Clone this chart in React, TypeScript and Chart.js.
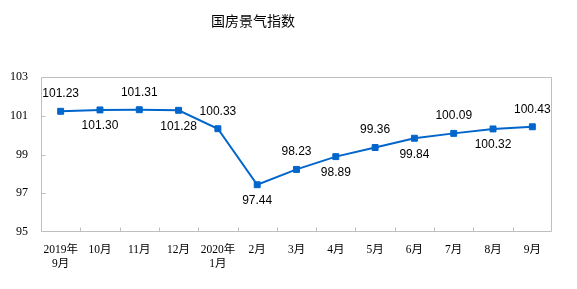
import React, { useEffect, useRef } from "react";
import { Chart, registerables } from "chart.js";

Chart.register(...registerables);

const TITLE = "国房景气指数";
const categories: (string | string[])[] = [
  ["2019年", "9月"], "10月", "11月", "12月", ["2020年", "1月"],
  "2月", "3月", "4月", "5月", "6月", "7月", "8月", "9月",
];
const values: number[] = [
  101.23, 101.3, 101.31, 101.28, 100.33, 97.44, 98.23, 98.89, 99.36, 99.84, 100.09, 100.32, 100.43,
];
const yMin = 95;
const yMax = 103;
const yStep = 2;

const LINE_COLOR = "#0066CC";
const FRAME_COLOR = "#BFBFBF";

const decorPlugin = {
  id: "decor",
  beforeDatasetsDraw(chart: any) {
    const { ctx, chartArea, scales } = chart;
    const { left, top, right, bottom } = chartArea;
    const xs = scales.x;
    const ys = scales.y;
    ctx.save();
    ctx.strokeStyle = FRAME_COLOR;
    ctx.lineWidth = 1;
    const L = Math.round(left) + 0.5;
    const R = Math.round(right) - 0.5;
    const T = Math.round(top) + 0.5;
    const B = Math.round(bottom) - 0.5;
    ctx.beginPath();
    ctx.rect(L, T, R - L, B - T);
    ctx.stroke();
    ctx.beginPath();
    for (let i = 1; i < categories.length; i++) {
      const px = Math.round(xs.getPixelForValue(i - 0.5)) + 0.5;
      ctx.moveTo(px, B);
      ctx.lineTo(px, B - 4);
    }
    for (let v = yMin + yStep; v < yMax; v += yStep) {
      const py = Math.round(ys.getPixelForValue(v)) + 0.5;
      ctx.moveTo(L, py);
      ctx.lineTo(L + 4, py);
    }
    ctx.stroke();
    ctx.restore();
  },
  afterDatasetsDraw(chart: any) {
    const { ctx } = chart;
    const meta = chart.getDatasetMeta(0);
    ctx.save();
    ctx.fillStyle = "#000";
    ctx.font = "12px 'Liberation Sans', Arial, sans-serif";
    ctx.textAlign = "center";
    ctx.textBaseline = "middle";
    meta.data.forEach((pt: any, i: number) => {
      const above = i % 2 === 0;
      ctx.fillText(values[i].toFixed(2), pt.x, pt.y + (above ? -17.5 : 16));
    });
    ctx.font = "14px 'Noto Sans CJK SC', sans-serif";
    ctx.fillText(TITLE, 253, 21);
    ctx.restore();
  },
};

export default function App() {
  const ref = useRef<HTMLCanvasElement | null>(null);
  useEffect(() => {
    document.body.style.margin = "0";
    const canvas = ref.current!;
    const chart = new Chart(canvas, {
      type: "line",
      data: {
        labels: categories,
        datasets: [
          {
            data: values,
            borderColor: LINE_COLOR,
            backgroundColor: LINE_COLOR,
            borderWidth: 2,
            pointStyle: "rect",
            pointRadius: 4.2,
            pointBorderWidth: 1,
            pointBorderColor: LINE_COLOR,
            pointBackgroundColor: LINE_COLOR,
            tension: 0,
            fill: false,
          },
        ],
      },
      options: {
        responsive: false,
        animation: false,
        devicePixelRatio: 1,
        layout: { padding: { top: 77, right: 25, left: 0, bottom: 0 } },
        plugins: {
          legend: { display: false },
          title: { display: false },
          tooltip: { enabled: false },
        },
        scales: {
          x: {
            type: "category",
            offset: true,
            grid: { display: false, drawTicks: false, drawOnChartArea: false },
            border: { display: false },
            ticks: {
              autoSkip: false,
              maxRotation: 0,
              minRotation: 0,
              padding: 11,
              color: "#000",
              font: { family: "'Liberation Serif', 'Noto Sans CJK SC', serif", size: 11.5, lineHeight: 1.2 },
            },
            afterFit: (s: any) => {
              s.height = 57;
            },
          },
          y: {
            min: yMin,
            max: yMax,
            grid: { display: false, drawTicks: false, drawOnChartArea: false },
            border: { display: false },
            ticks: {
              stepSize: yStep,
              padding: 13,
              color: "#000",
              font: { family: "'Liberation Serif', serif", size: 12 },
            },
            afterFit: (s: any) => {
              s.width = 41;
            },
          },
        },
      },
      plugins: [decorPlugin],
    });
    return () => chart.destroy();
  }, []);
  return (
    <div style={{ width: 577, height: 289 }}>
      <canvas ref={ref} width={577} height={289} style={{ display: "block" }} />
    </div>
  );
}
